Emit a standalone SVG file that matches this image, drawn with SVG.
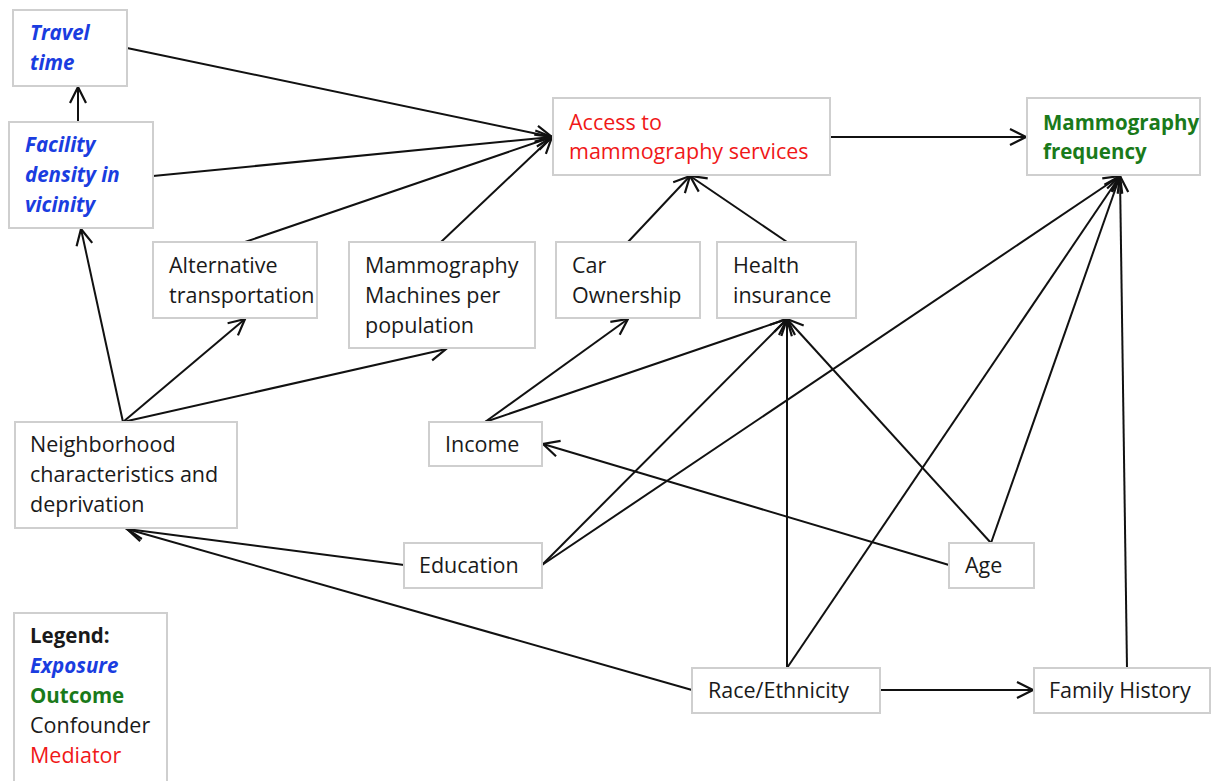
<svg xmlns="http://www.w3.org/2000/svg" width="1226" height="781" viewBox="0 0 1226 781">
<defs>
<marker id="ah" viewBox="0 0 20 20" refX="18" refY="10" markerWidth="20" markerHeight="20" markerUnits="userSpaceOnUse" orient="auto">
<path d="M2,2 L18,10 L2,18" fill="none" stroke="#111" stroke-width="2.2"/>
</marker>
<style>
.box{fill:#fff;stroke:#cfcfcf;stroke-width:2}
text{font-family:"Open Sans",Lato,"Liberation Sans",sans-serif;font-size:21.5px;fill:#1a1a1a}
.exp{fill:#1a3de0;font-weight:bold;font-style:italic;font-size:20.5px}
.out{fill:#1a7a1a;font-weight:bold;font-size:20.5px}
.med{fill:#f01818}
.leg{font-weight:bold;font-size:20.5px}
.c line{stroke:#111;stroke-width:2;marker-end:url(#ah)}
</style>
</defs>
<rect width="1226" height="781" fill="#fff"/>
<g class="c" id="connectors">
<line x1="127" y1="48" x2="552" y2="137"/>
<line x1="153" y1="176" x2="552" y2="137"/>
<line x1="245" y1="242" x2="552" y2="137"/>
<line x1="441" y1="242" x2="552" y2="137"/>
<line x1="78" y1="122" x2="78" y2="87"/>
<line x1="830" y1="137" x2="1026" y2="137"/>
<line x1="628" y1="242" x2="690" y2="176"/>
<line x1="787" y1="242" x2="690" y2="176"/>
<line x1="123" y1="422" x2="81" y2="229"/>
<line x1="123" y1="422" x2="245" y2="319"/>
<line x1="123" y1="422" x2="446" y2="349"/>
<line x1="485" y1="422" x2="628" y2="319"/>
<line x1="485" y1="422" x2="787" y2="319"/>
<line x1="542" y1="565" x2="787" y2="319"/>
<line x1="542" y1="565" x2="1120" y2="176"/>
<line x1="404" y1="565" x2="127" y2="529"/>
<line x1="949" y1="565" x2="543" y2="444"/>
<line x1="991" y1="543" x2="787" y2="319"/>
<line x1="991" y1="543" x2="1120" y2="176"/>
<line x1="787" y1="668" x2="787" y2="319"/>
<line x1="787" y1="668" x2="1120" y2="176"/>
<line x1="692" y1="690" x2="127" y2="529"/>
<line x1="880" y1="690" x2="1033" y2="690"/>
<line x1="1127" y1="668" x2="1120" y2="176"/>
</g>
<g id="travel"><rect class="box" x="13" y="10" width="114" height="76"/><text class="exp" x="30" y="40">Travel</text><text class="exp" x="30" y="70">time</text></g>
<g id="facility"><rect class="box" x="9" y="122" width="144" height="106"/><text class="exp" x="25" y="152">Facility</text><text class="exp" x="25" y="182">density in</text><text class="exp" x="25" y="212">vicinity</text></g>
<g id="access"><rect class="box" x="553" y="98" width="277" height="77"/><text class="med" x="569" y="130">Access to</text><text class="med" x="569" y="159">mammography services</text></g>
<g id="freq"><rect class="box" x="1027" y="98" width="173" height="77"/><text class="out" x="1043" y="130">Mammography</text><text class="out" x="1043" y="159">frequency</text></g>
<g id="alt"><rect class="box" x="153" y="242" width="164" height="76"/><text x="169" y="273">Alternative</text><text x="169" y="303">transportation</text></g>
<g id="machines"><rect class="box" x="349" y="242" width="186" height="106"/><text x="365" y="273">Mammography</text><text x="365" y="303">Machines per</text><text x="365" y="333">population</text></g>
<g id="car"><rect class="box" x="556" y="242" width="144" height="76"/><text x="572" y="273">Car</text><text x="572" y="303">Ownership</text></g>
<g id="health"><rect class="box" x="717" y="242" width="139" height="76"/><text x="733" y="273">Health</text><text x="733" y="303">insurance</text></g>
<g id="neigh"><rect class="box" x="15" y="422" width="222" height="106"/><text x="30" y="452">Neighborhood</text><text x="30" y="482">characteristics and</text><text x="30" y="512">deprivation</text></g>
<g id="income"><rect class="box" x="429" y="422" width="113" height="44"/><text x="445" y="452">Income</text></g>
<g id="education"><rect class="box" x="404" y="543" width="138" height="45"/><text x="419" y="573">Education</text></g>
<g id="age"><rect class="box" x="949" y="543" width="85" height="45"/><text x="965" y="573">Age</text></g>
<g id="race"><rect class="box" x="692" y="668" width="188" height="45"/><text x="708" y="698">Race/Ethnicity</text></g>
<g id="family"><rect class="box" x="1034" y="668" width="176" height="45"/><text x="1049" y="698">Family History</text></g>
<g id="legend"><rect class="box" x="14" y="613" width="153" height="175"/>
<text class="leg" x="30" y="643">Legend:</text>
<text class="exp" x="30" y="673">Exposure</text>
<text class="out" x="30" y="703">Outcome</text>
<text x="30" y="733">Confounder</text>
<text class="med" x="30" y="763">Mediator</text></g>
</svg>
